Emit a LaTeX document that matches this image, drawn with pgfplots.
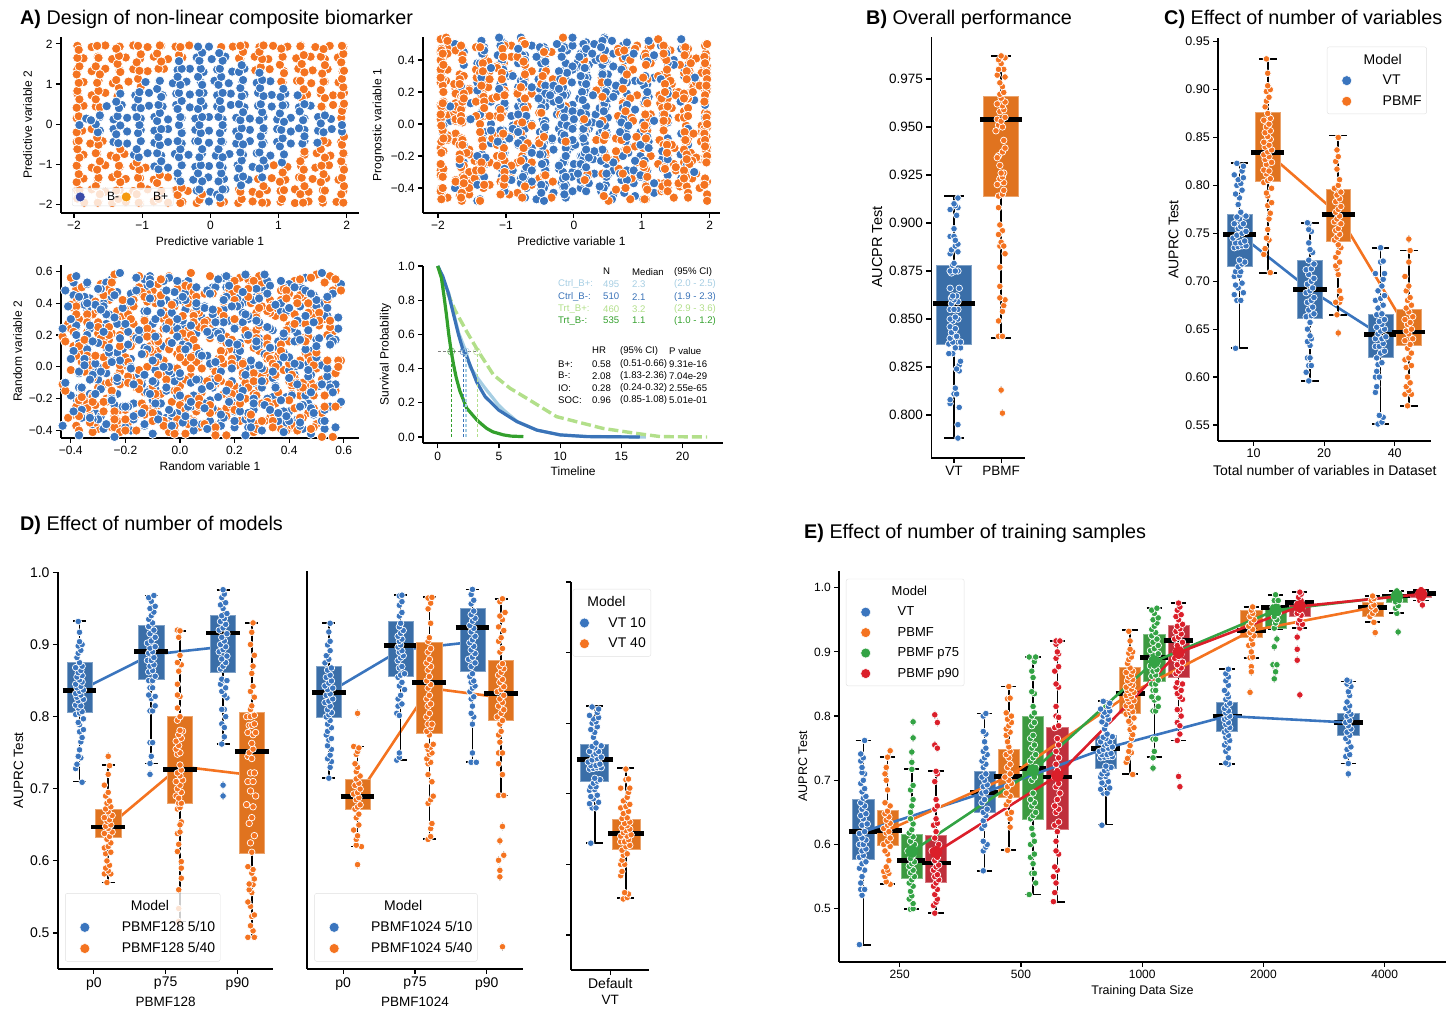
\documentclass[border=0pt]{standalone}
\usepackage{fontspec}
\setmainfont{Liberation Sans}
\usepackage{pgfplots}
\usepackage{pgfplotstable}
\pgfplotsset{compat=1.18}
\definecolor{dB}{HTML}{3A75BE}\definecolor{dO}{HTML}{F47320}\definecolor{dG}{HTML}{33A344}\definecolor{dR}{HTML}{DB1F2A}
\definecolor{bB}{HTML}{3A6EA8}\definecolor{bO}{HTML}{E0731F}\definecolor{bG}{HTML}{3C9A40}\definecolor{bR}{HTML}{BF2F3B}
\definecolor{kLB}{HTML}{A6CEE3}\definecolor{kB}{HTML}{3A73B8}\definecolor{kLG}{HTML}{B2DF8A}\definecolor{kG}{HTML}{33A02C}
\definecolor{lgB}{HTML}{3B4BA8}\definecolor{lgO}{HTML}{F59A0E}
\newcommand\fs[1]{\fontsize{#1}{#1}\selectfont}
\pgfplotsset{lg/.style={only marks,mark=*,mark size=5,mark options={fill=#1,draw=white,line width=.5pt,fill opacity=1,draw opacity=1}},
 mA/.style={only marks,mark=*,mark size=4.7,mark options={fill=#1,draw=white,line width=.8pt}},
 shiftlg/.style={legend image post style={xshift=8pt}},
 base/.style={scale only axis,axis lines=left,axis line style={-,line width=1.8pt},tick style={black,line width=1.2pt},major tick length=5pt,tick align=outside,scaled ticks=false,
 legend style={draw=black!12,rounded corners=2pt,fill=white,fill opacity=.8,text opacity=1,row sep=5.5pt,inner ysep=5pt},legend cell align=left}}
\def\ms{3.3}\def\pxu{70}\def\bw{.176}\def\mw{.235}\def\cw{.1}
\newcommand\swi[3]{\addplot[forget plot,only marks,mark=*,mark size=\ms,mark options={fill=#2,draw=white,line width=.7pt},x filter/.expression={#3+1.3*x/\pxu}] coordinates {#1};}
\newcommand\sw[3]{\expandafter\swi\expandafter{#3}{#1}{#2}}
\newcommand\fl[3]{\addplot[forget plot,only marks,mark=diamond,mark size=3.6,mark options={draw=black!55,line width=.6pt},x filter/.expression={#2+1.3*x/\pxu}] coordinates {#3};\sw{#1}{#2}{#3}}
\newcommand\bx[7]{%
\addplot[forget plot,black,line width=1.6pt,x filter/.expression={#2+x}] coordinates {(0,#3)(0,#7)};
\addplot[forget plot,black,line width=1.8pt,x filter/.expression={#2+x*\cw}] coordinates {(-1,#3)(1,#3)};
\addplot[forget plot,black,line width=1.8pt,x filter/.expression={#2+x*\cw}] coordinates {(-1,#7)(1,#7)};
\addplot[forget plot,fill=#1,draw=#1!65!white,line width=.6pt,x filter/.expression={#2+x*\bw}] coordinates {(-1,#4)(1,#4)(1,#6)(-1,#6)} --cycle;
\addplot[forget plot,black,line width=4.8pt,x filter/.expression={#2+x*\mw}] coordinates {(-1,#5)(1,#5)};}
\newcommand\ml[2]{\addplot[forget plot,#1,line width=2.6pt,line join=round] coordinates {#2};}
\newcommand\T[5][8]{\node[anchor=west,inner sep=0pt,text=#4] at ({#2},{1010-#3}) {\fs{#1}#5};}
\pgfplotstableread{
a b c d e
-.02 1.93 .12 .36 .16
-.2 1.66 -.26 .12 -.27
.02 1.62 .35 -.13 .30
.22 1.68 -.03 -.37 -.13
-.48 1.35 -.41 .38 .44
-.3 1.38 .21 .14 .01
-.1 1.3 -.17 -.11 .57
.1 1.36 .44 -.35 .15
.32 1.31 .06 .40 -.28
.5 1.38 -.32 .16 .29
-.95 1.05 .3 -.09 -.14
-.75 1.08 -.08 -.33 .43
-.55 1.02 -.47 .42 0
-.35 1.06 .15 .18 .55
-.14 1.04 -.23 -.07 .14
.06 1.08 .39 -.31 -.29
.27 1.02 .01 .44 .28
.47 1.06 -.38 .20 -.15
.68 1.03 .24 -.05 .42
.88 1.07 -.14 -.29 -.01
-1.32 .76 .48 .46 .56
-1.1 .72 .1 .22 .13
-.9 .78 -.29 -.03 -.30
-.7 .72 .33 -.27 .27
-.5 .76 -.05 .48 -.16
-.3 .74 -.43 .24 .41
-.1 .78 .19 -.01 -.02
.1 .72 -.2 -.25 .55
.3 .76 .42 .50 .12
.5 .74 .04 .26 -.31
.7 .78 -.35 .01 .26
.9 .73 .27 -.23 -.17
1.1 .76 -.11 .52 .40
1.28 .72 .49 .28 -.03
-1.52 .45 .13 .03 .54
-1.3 .48 -.25 -.21 .11
-1.1 .42 .37 .54 .32
-.9 .46 -.01 .30 .25
-.7 .44 -.4 .05 -.18
-.5 .48 .22 -.19 .39
-.3 .42 -.16 .56 -.04
-.1 .46 .46 .32 .53
.1 .44 .08 .07 .1
.3 .48 -.31 -.17 -.33
.5 .42 .31 .58 .24
.7 .46 -.07 .34 -.19
.9 .44 -.45 .09 .38
1.1 .48 .17 -.15 -.05
1.3 .42 -.22 .59 .52
1.47 .46 .4 .37 .09
-1.82 .14 .02 .11 -.34
-1.62 .18 -.36 -.13 .23
-1.42 .12 .26 -.38 -.2
-1.22 .16 -.12 .35 .37
-1.02 .14 .5 .13 -.06
-.82 .18 .11 -.12 .51
-.62 .12 -.27 -.36 .08
-.42 .16 .35 .39 -.35
-.22 .14 -.03 .15 .22
-.02 .18 -.42 -.10 -.21
.18 .12 .2 -.34 .36
.38 .16 -.18 .41 -.07
.58 .14 .44 .17 .5
.78 .18 .06 -.08 .07
.98 .12 -.33 -.32 -.36
1.18 .16 .29 .43 .21
1.38 .14 -.09 .19 -.22
1.58 .18 .47 -.06 .35
1.77 .13 .15 -.3 -.08
-1.62 -.16 -.24 .45 .49
-1.42 -.12 .38 .21 .06
-1.22 -.18 0 -.04 -.37
-1.02 -.14 -.39 -.28 .2
-.82 -.16 .23 .47 -.23
-.62 -.12 -.15 .23 .34
-.42 -.18 .47 -.02 -.09
-.22 -.14 .09 -.26 .48
-.02 -.16 -.3 .49 .05
.18 -.12 .32 .25 -.38
.38 -.18 -.06 0 .19
.58 -.14 -.44 -.24 -.24
.78 -.16 .18 .51 .33
.98 -.12 -.2 .27 -.1
1.18 -.18 .42 .02 .47
1.38 -.14 .04 -.22 .04
1.58 -.16 -.34 .53 -.39
1.78 -.12 .28 .29 .18
1.93 -.18 -.1 .04 -.25
-1.42 -.44 -.48 -.2 .32
-1.22 -.48 .14 .55 -.11
-1.02 -.42 -.24 .31 .46
-.82 -.46 .38 .06 .03
-.62 -.44 0 -.18 -.4
-.42 -.48 -.38 .57 .17
-.22 -.42 .24 .33 -.26
-.02 -.46 -.14 .08 .31
.18 -.44 .48 -.16 -.12
.38 -.48 .1 -.39 .45
.58 -.42 -.29 .36 .02
.78 -.46 .33 .12 -.13
.98 -.44 -.05 -.13 .55
1.18 -.48 -.43 -.37 .15
1.38 -.42 .19 .38 -.28
1.57 -.46 -.19 .14 .29
-1.12 -.76 .43 -.11 -.14
-.92 -.72 .05 -.35 .43
-.72 -.78 -.34 .40 -.02
-.52 -.74 .28 .16 .56
-.32 -.76 -.1 -.09 .13
-.12 -.72 -.46 -.33 -.3
.08 -.78 .16 .42 .27
.28 -.74 -.22 .18 -.16
.48 -.76 .4 -.07 .41
.68 -.72 .02 -.31 -.03
.88 -.78 -.37 .44 .54
1.08 -.74 .25 .2 .11
-.82 -1.05 -.13 -.05 -.32
-.62 -1.08 .49 -.29 .25
-.42 -1.02 .11 .46 -.18
-.22 -1.06 -.28 .22 .39
-.02 -1.04 .34 -.03 -.04
.18 -1.08 -.04 -.27 .53
.4 -1.02 -.42 .48 .1
.62 -1.06 .2 .24 -.33
.8 -1.04 -.18 -.01 .24
-.47 -1.35 .44 -.25 -.19
-.25 -1.38 .06 .5 .38
-.03 -1.32 -.33 .26 -.05
.2 -1.36 .29 .01 .52
.4 -1.34 -.09 -.23 .09
.56 -1.38 -.47 .52 -.34
-.2 -1.65 .13 .28 .23
0 -1.68 -.25 .03 -.2
.22 -1.62 .37 -.21 .37
-.02 -1.92 -.01 .54 -.06
.1 -1.75 -.4 .3 .5
}\tB
\pgfplotstableread{
a b c d e
-1.95 1.95 .32 .05 .07
-1.74 1.92 -.06 -.19 -.35
-1.54 1.96 -.44 .56 .22
-1.33 1.93 .18 .32 -.21
-1.13 1.96 -.2 .07 .36
-.92 1.92 .42 -.17 -.07
-.72 1.95 .04 .58 .5
-.51 1.93 -.34 .34 .07
-.31 1.96 .28 .09 -.36
.33 1.93 -.1 -.15 .21
.51 1.96 -.48 .59 -.22
.72 1.92 .14 .37 .35
.92 1.95 -.24 .11 -.08
1.13 1.93 .38 -.38 .49
1.33 1.96 0 .35 .06
1.54 1.92 -.38 .13 -.37
1.75 1.95 .24 -.12 .2
1.95 1.93 -.14 -.36 -.23
-1.86 1.64 .48 .39 .34
-1.65 1.68 .1 .15 -.09
-1.44 1.62 -.29 -.1 .48
-1.24 1.66 .33 -.34 .05
-1.03 1.63 -.05 .41 -.38
-.83 1.68 -.43 .17 .19
-.62 1.62 .19 -.08 -.24
-.41 1.66 -.19 -.32 .33
.44 1.63 .43 .43 -.1
.65 1.68 .05 .19 .47
.85 1.62 -.34 -.06 .04
1.06 1.66 .28 -.3 -.39
1.26 1.64 -.1 .45 .18
1.47 1.68 -.46 .21 -.25
1.68 1.62 .16 -.04 .32
1.87 1.66 -.22 -.28 -.11
-1.95 1.36 .4 .47 .46
-1.74 1.32 .02 .23 .03
-1.54 1.38 -.37 -.02 -.4
-1.33 1.34 .25 -.26 .17
-1.13 1.37 -.13 .49 -.26
-.92 1.32 .49 .25 .31
-.68 1.38 .11 0 -.12
.66 1.34 -.28 -.24 .45
.87 1.37 .34 .51 .02
1.08 1.32 -.04 .27 -.41
1.29 1.38 -.42 .02 .16
1.5 1.34 .2 -.22 -.27
1.72 1.37 -.18 .53 .3
1.94 1.32 .44 .29 -.13
-1.86 1.05 .06 .04 .44
-1.64 1.08 -.33 -.2 .01
-1.43 1.02 .29 .55 .57
-1.2 1.06 -.09 .31 .16
1.06 1.04 -.47 .06 -.28
1.27 1.08 .13 -.18 .28
1.48 1.02 -.25 .57 -.15
1.68 1.06 .37 .33 .42
1.88 1.04 -.01 .08 -.01
-1.95 .76 -.4 -.16 .56
-1.74 .72 .22 -.39 .13
-1.54 .78 -.16 .36 -.3
1.42 .74 .46 .12 .27
1.62 .76 .08 -.13 -.16
1.8 .72 -.31 -.37 .41
1.96 .78 .31 .38 -.02
-1.86 .46 -.07 .14 .55
-1.68 .44 -.45 -.11 .12
1.64 .42 .17 -.35 -.31
1.8 .48 -.21 .4 .26
1.95 .44 .41 .16 -.17
-1.96 .15 .03 -.09 .4
1.92 .16 -.35 -.33 -.03
-1.88 -.16 .27 .42 .54
-1.74 -.12 -.11 .18 .11
-1.96 -.44 .45 -.07 -.32
-1.76 -.48 .07 -.31 .25
-1.58 -.42 -.32 .44 -.18
1.72 -.46 .3 .2 .38
1.92 -.44 -.08 -.05 -.05
-1.86 -.76 -.46 -.29 .52
-1.66 -.72 .16 .46 .09
-1.46 -.78 -.23 .22 -.34
-1.26 -.74 .39 -.03 .23
1.38 -.76 .01 -.27 -.2
1.56 -.72 -.39 .48 .37
1.76 -.78 .23 .24 -.06
1.96 -.74 -.15 -.01 .5
-1.95 -1.05 .47 -.25 .07
-1.74 -1.08 .09 .5 -.36
-1.54 -1.02 -.3 .26 .21
-1.33 -1.06 .32 .01 -.22
-1.13 -1.04 -.06 -.23 .35
-.95 -1.08 -.44 .52 -.08
.93 -1.02 .18 .28 .49
1.13 -1.06 -.2 .03 .06
1.33 -1.04 .42 -.21 -.37
1.54 -1.08 .04 .54 .2
1.74 -1.02 -.34 .3 -.23
1.95 -1.06 .28 .05 .34
-1.86 -1.35 -.1 -.19 -.09
-1.65 -1.38 -.48 .56 .48
-1.44 -1.32 .14 .32 .05
-1.24 -1.36 -.24 .07 -.38
-1.03 -1.34 .38 -.17 .19
-.83 -1.38 0 .58 -.24
-.62 -1.32 -.38 .34 .33
.7 -1.36 .24 .09 -.1
.9 -1.34 -.14 -.15 .47
1.1 -1.38 .48 .59 .04
1.3 -1.32 .1 .37 -.39
1.5 -1.36 -.29 .11 .18
1.7 -1.34 .33 -.38 -.25
1.88 -1.38 -.05 .35 .32
-1.95 -1.65 -.43 .13 -.11
-1.74 -1.62 .19 -.12 .46
-1.54 -1.68 -.19 -.36 .03
-1.33 -1.64 .43 .39 -.4
-1.13 -1.66 .05 .15 .17
-.92 -1.62 -.34 -.1 -.26
-.72 -1.68 .28 -.34 .31
-.51 -1.64 -.1 .41 -.12
-.33 -1.66 -.46 .17 .45
.42 -1.62 .16 -.08 .02
.62 -1.68 -.22 -.32 -.41
.83 -1.64 .4 .43 .16
1.03 -1.66 .02 .19 -.27
1.24 -1.62 -.37 -.06 .3
1.44 -1.68 .25 -.3 -.13
1.65 -1.64 -.13 .45 .44
1.95 -1.66 .49 .21 .01
-1.85 -1.95 .11 -.04 .57
-1.64 -1.92 -.28 -.28 .14
-1.44 -1.96 .34 .47 -.29
-1.24 -1.93 -.04 .23 .28
-1.03 -1.96 -.42 -.02 -.15
-.83 -1.92 .2 -.26 .42
-.62 -1.95 -.18 .49 -.01
-.41 -1.93 .44 .25 .55
-.2 -1.96 .06 0 .12
.2 -1.93 -.33 -.24 -.31
.41 -1.96 .29 .51 .26
.62 -1.92 -.09 .27 -.17
.83 -1.95 -.47 .02 .4
1.03 -1.93 .13 -.22 -.03
1.24 -1.96 -.25 .53 .53
1.44 -1.92 .37 .29 .1
1.65 -1.95 -.01 .04 -.33
1.85 -1.93 -.4 -.2 .24
}\tO
% shared swarm groups (the same models appear in several panels)
\def\dVTt{(-3,.63)(-2,.68)(1,.68)(-4,.686)(3,.688)(-1,.693)(-3,.696)(2,.698)(-4,.705)(0,.706)(-3,.71)(1,.71)(-1,.715)(2,.718)(4,.72)(0,.722)(-4,.735)(-1,.736)(2,.737)(5,.737)(-3,.74)(1,.74)(4,.742)(-5,.745)(-2,.748)(2,.75)(5,.752)(-1,.755)(1,.757)(-4,.76)(3,.76)(0,.765)(5,.768)(-2,.767)(1,.772)(-1,.78)(0,.787)(-3,.791)(2,.795)(-2,.8)(1,.802)(-1,.806)(3,.808)(-4,.811)(2,.815)(3,.82)(-2,.823)}
\def\dVTf{(-2,.551)(1,.553)(2,.558)(-1,.56)(-4,.584)(-3,.59)(-4,.6)(-1,.6)(-3,.606)(-2,.613)(1,.615)(-3,.62)(0,.625)(3,.627)(-4,.632)(-1,.632)(2,.635)(-4,.64)(1,.64)(4,.642)(-2,.645)(0,.648)(3,.65)(-3,.652)(1,.655)(-1,.658)(3,.66)(-3,.665)(1,.666)(-2,.672)(2,.675)(-4,.68)(0,.682)(3,.685)(-2,.69)(1,.695)(2,.702)(-4,.708)(3,.708)(0,.72)(2,.721)(0,.735)}
\def\dPf{(2,.709)(-3,.728)(-2,.734)(1,.743)(-1,.745)(0,.754)(1,.765)(2,.771)(0,.779)(3,.782)(0,.789)(-1,.792)(3,.797)(-3,.803)(0,.805)(2,.807)(-1,.812)(-3,.816)(1,.815)(-1,.822)(3,.824)(-2,.827)(1,.83)(-3,.832)(0,.835)(3,.837)(-2,.84)(1,.842)(-3,.845)(2,.848)(0,.851)(-2,.855)(2,.857)(-1,.861)(1,.864)(-3,.868)(2,.87)(0,.875)(-2,.882)(-1,.888)(1,.892)(-1,.898)(2,.9)(0,.904)(0,.917)(-1,.932)}
\def\dPt{(-1,.57)(-3,.582)(2,.582)(0,.586)(-2,.59)(1,.594)(-1,.6)(-2,.61)(2,.612)(-3,.618)(0,.62)(2,.625)(-1,.63)(1,.634)(-3,.638)(3,.64)(0,.645)(-2,.648)(2,.65)(-1,.655)(1,.657)(-3,.66)(3,.663)(0,.668)(-2,.672)(2,.675)(-1,.68)(1,.683)(-2,.69)(0,.695)(-3,.705)(0,.72)(1,.732)}
\def\dPs{(-1,.735)(0,.745)(-1,.764)(1,.764)(-1,.808)(1,.808)(3,.815)(0,.825)(3,.828)(-2,.83)(-1,.84)(1,.84)(-2,.85)(1,.85)(3,.856)(-2,.862)(1,.864)(-1,.87)(2,.872)(-3,.878)(0,.878)(2,.882)(-2,.888)(1,.89)(-1,.895)(3,.897)(-3,.902)(0,.905)(3,.91)(-1,.915)(2,.92)(-2,.925)(1,.93)(-2,.935)(0,.94)(2,.945)(-1,.95)(3,.953)(0,.96)(-2,.965)(2,.968)}
\def\dPn{(-1,.762)(1,.772)(-1,.79)(1,.785)(2,.8)(1,.81)(-1,.81)(3,.826)(1,.83)(-1,.835)(2,.84)(-2,.845)(1,.85)(-1,.852)(3,.85)(-2,.866)(0,.87)(2,.875)(-1,.88)(3,.884)(-3,.89)(0,.893)(2,.897)(-2,.9)(1,.905)(-1,.91)(3,.915)(-3,.92)(0,.923)(2,.928)(-2,.932)(1,.936)(-1,.94)(3,.943)(0,.95)(-2,.955)(2,.958)(-1,.965)(1,.97)(0,.976)}
\begin{document}
\begin{tikzpicture}[x=1pt,y=1pt]
\path[use as bounding box] (0,0) rectangle (1448,1010);
% A1
\begin{axis}[base,shiftlg,at={(61pt,797.3pt)},anchor=south west,width=298pt,height=175.7pt,xmin=-2.19,xmax=2.18,ymin=-2.2,ymax=2.17,
 xtick={-2,-1,0,1,2},xticklabels={−2,−1,0,1,2},ytick={-2,-1,0,1,2},yticklabels={−2,−1,0,1,2},tick label style={font=\fs{12}},label style={font=\fs{12}},
 xlabel={Predictive variable 1},ylabel={Predictive variable 2},legend columns=2,legend style={at={(0.037,0.038)},anchor=south west,font=\fs{12},inner ysep=2pt}]
\addplot[forget plot,mA=dO] table[x=a,y=b] {\tO};
\addplot[forget plot,mA=dO] table[x=b,y=a] {\tO};
\addplot[forget plot,mA=dB] table[x=a,y=b] {\tB};
\addplot[forget plot,mA=dB] table[x=b,y=a] {\tB};
\addlegendimage{lg=lgB}\addlegendentry{\hspace{20pt}B-\hspace{2pt}}
\addlegendimage{lg=lgO}\addlegendentry{\hspace{20pt}B+\hspace{6pt}}
\end{axis}
% A2
\begin{axis}[base,at={(423pt,797pt)},anchor=south west,width=297pt,height=176pt,xmin=-2.22,xmax=2.15,ymin=-.556,ymax=.544,
 xtick={-2,-1,0,1,2},xticklabels={−2,−1,0,1,2},ytick={-.4,-.2,0,.2,.4},yticklabels={−0.4,−0.2,0.0,0.2,0.4},tick label style={font=\fs{12}},label style={font=\fs{12}},
 xlabel={Predictive variable 1},ylabel={Prognostic variable 1}]
\addplot[forget plot,mA=dB] table[x=a,y=c] {\tB};
\addplot[forget plot,mA=dO] table[x=a,y=c] {\tO};
\addplot[forget plot,mA=dB] table[x=b,y=e] {\tB};
\addplot[forget plot,mA=dO] table[x=b,y=e] {\tO};
\addplot[forget plot,mA=dB] table[x=b,y=c] {\tB};
\addplot[forget plot,mA=dO] table[x=a,y=e] {\tO};
\addplot[forget plot,mA=dB] table[x=a,y=d] {\tB};
\addplot[forget plot,mA=dO] table[x=b,y=c] {\tO};
\end{axis}
% A3
\begin{axis}[base,at={(61pt,572pt)},anchor=south west,width=298pt,height=173pt,xmin=-.436,xmax=.656,ymin=-.447,ymax=.64,
 xtick={-.4,-.2,0,.2,.4,.6},xticklabels={−0.4,−0.2,0.0,0.2,0.4,0.6},ytick={-.4,-.2,0,.2,.4,.6},yticklabels={−0.4,−0.2,0.0,0.2,0.4,0.6},tick label style={font=\fs{12}},label style={font=\fs{12}},
 xlabel={Random variable 1},ylabel={Random variable 2}]
\addplot[forget plot,mA=dO] table[x=d,y=e] {\tO};
\addplot[forget plot,mA=dB] table[x=d,y=e] {\tB};
\addplot[forget plot,mA=dO] table[x=e,y=d] {\tO};
\addplot[forget plot,mA=dB] table[x=e,y=d] {\tB};
\addplot[forget plot,mA=dO] table[x=c,y=e] {\tO};
\addplot[forget plot,mA=dB] table[x=d,y=c] {\tB};
\addplot[forget plot,mA=dO] table[x=d,y=c] {\tO};
\addplot[forget plot,mA=dB] table[x=c,y=d] {\tB};
\end{axis}
% A4
\begin{axis}[base,at={(423.3pt,566.7pt)},anchor=south west,width=299.7pt,height=177.3pt,xmin=-1.18,xmax=23.3,ymin=-.037,ymax=1,
 xtick={0,5,10,15,20},xticklabels={0,5,10,15,20},ytick={0,.2,.4,.6,.8,1},yticklabels={0.0,0.2,0.4,0.6,0.8,1.0},tick label style={font=\fs{12}},label style={font=\fs{12}},
 xlabel={Timeline},ylabel={Survival Probability}]
\addplot[forget plot,gray,densely dashed,line width=1pt] coordinates {(0,.5)(3.2,.5)};
\addplot[forget plot,kLB,line width=3.2pt] coordinates {(0,1)(.4,.93)(.9,.84)(1.7,.61)(2.3,.5)(2.64,.41)(3.2,.35)(3.87,.285)(4.96,.187)(5.5,.15)(6.5,.09)(8.1,.04)(10,.012)(12.2,.003)(15,.001)(17,0)};
\addplot[forget plot,kLG,line width=3.4pt,dash pattern=on 10pt off 4pt] coordinates {(0,1)(.46,.9)(1.42,.74)(2.37,.616)(3.32,.5)(4.55,.363)(5.9,.285)(7.27,.226)(9.7,.119)(13.5,.05)(16.3,.02)(18.2,.002)(22,0)};
\addplot[forget plot,kB,line width=3.2pt] coordinates {(0,1)(.41,.94)(.87,.84)(1.69,.6)(2.1,.5)(2.37,.47)(3.19,.32)(3.87,.236)(4.96,.158)(6.46,.09)(8.1,.04)(10,.012)(12.2,.002)(16.5,0)};
\addplot[forget plot,kG,line width=3.2pt] coordinates {(0,1)(.3,.93)(.5,.83)(.7,.72)(.9,.6)(1.1,.5)(1.3,.42)(1.5,.35)(1.8,.27)(2.37,.168)(3.19,.1)(3.5,.08)(4,.05)(4.5,.03)(5.37,.012)(6,.005)(7,.002)};
\addplot[forget plot,kG,densely dashed,line width=.8pt] coordinates {(1.1,0)(1.1,.5)};
\addplot[forget plot,kB,densely dashed,line width=1.2pt] coordinates {(2.1,0)(2.1,.5)};
\addplot[forget plot,kLB,densely dashed,line width=1.2pt] coordinates {(2.3,0)(2.3,.5)};
\addplot[forget plot,kLG,densely dashed,line width=.8pt] coordinates {(3.2,0)(3.2,.5)};
\addplot[forget plot,only marks,mark=o,mark size=3.6,kG,mark options={line width=.4pt}] coordinates {(1.1,.5)};
\addplot[forget plot,only marks,mark=o,mark size=3.6,kB,mark options={line width=.4pt}] coordinates {(2.1,.5)};
\addplot[forget plot,only marks,mark=o,mark size=3.6,kLB,mark options={line width=.4pt}] coordinates {(2.3,.5)};
\addplot[forget plot,only marks,mark=o,mark size=3.6,kLG,mark options={line width=.4pt}] coordinates {(3.2,.5)};
\end{axis}
% B
\def\pxu{47}\def\bw{.37}\def\mw{.447}\def\cw{.21}
\begin{axis}[base,at={(931.4pt,552.3pt)},anchor=south west,width=93.3pt,height=421pt,xmin=-.48,xmax=1.5,ymin=.7778,ymax=.997,
 xtick={0,1},xticklabels={VT,PBMF},ytick={.8,.825,.85,.875,.9,.925,.95,.975},yticklabels={0.800,0.825,0.850,0.875,0.900,0.925,0.950,0.975},tick label style={font=\fs{13.5}},label style={font=\fs{14.5}},ylabel={AUCPR Test}]
\bx{bB}{0}{.788}{.837}{.858}{.878}{.914}
\bx{bO}{1}{.84}{.914}{.954}{.966}{.987}
\sw{dB}{0}{(3,.788)(3,.795)(4,.804)(-3,.806)(-3,.808)(0,.811)(2,.811)(1,.814)(4,.823)(4,.826)(2,.824)(5,.828)(-1,.832)(-4,.832)(5,.835)(1,.835)(-4,.837)(-1,.838)(5,.838)(-3,.84)(0,.842)(-2,.843)(2,.841)(-3,.846)(1,.845)(-1,.849)(3,.85)(-3,.85)(1,.851)(-3,.855)(3,.855)(0,.855)(-2,.858)(3,.859)(0,.86)(-2,.861)(2,.862)(-3,.866)(4,.866)(-1,.862)(-2,.874)(3,.875)(-3,.875)(1,.875)(-1,.878)(0,.879)(-3,.884)(3,.885)(-2,.886)(1,.888)(3,.889)(-3,.893)(0,.893)(0,.897)(1,.891)(2,.904)(3,.908)(-3,.907)(1,.909)(3,.913)(0,.91)}
\sw{dO}{1}{(-2,.841)(1,.841)(-2,.849)(1,.854)(2,.857)(3,.86)(-1,.861)(-1,.867)(-1,.877)(3,.884)(-1,.888)(0,.89)(1,.896)(-1,.899)(-2,.894)(2,.888)(-2,.908)(-2,.914)(1,.915)(2,.917)(-3,.92)(2,.921)(-1,.923)(1,.924)(2,.926)(0,.926)(-1,.93)(-2,.935)(-3,.934)(1,.937)(3,.939)(2,.943)(-4,.948)(-2,.951)(1,.95)(-3,.954)(0,.953)(3,.955)(-1,.958)(2,.959)(1,.961)(-3,.962)(3,.963)(0,.965)(-1,.967)(2,.968)(1,.971)(-1,.973)(3,.976)(-3,.977)(2,.98)(-2,.98)(0,.983)(3,.986)(-2,.985)(0,.987)}
\fl{dO}{1}{(0,.813)(1,.801)}
\end{axis}
% C
\def\pxu{70.5}\def\bw{.176}\def\mw{.235}\def\cw{.125}
\begin{axis}[base,shiftlg,at={(1218.3pt,569.3pt)},anchor=south west,width=213.1pt,height=402.4pt,xmin=-.5,xmax=2.52,ymin=.5336,ymax=.9535,
 xtick={0,1,2},xticklabels={10,20,40},ytick={.55,.6,.65,.7,.75,.8,.85,.9,.95},yticklabels={0.55,0.60,0.65,0.70,0.75,0.80,0.85,0.90,0.95},tick label style={font=\fs{12.5}},label style={font=\fs{14}},
 xlabel={Total number of variables in Dataset},ylabel={AUPRC Test},legend style={at={(.51,.979)},anchor=north west,font=\fs{14}}]
\ml{dB}{(-.2,.749)(.8,.691)(1.8,.644)}
\ml{dO}{(.2,.834)(1.2,.77)(2.2,.647)}
\bx{bB}{-.2}{.63}{.716}{.749}{.77}{.823}
\bx{bO}{.2}{.709}{.804}{.834}{.876}{.932}
\bx{bB}{.8}{.596}{.661}{.691}{.722}{.761}
\bx{bO}{1.2}{.665}{.742}{.77}{.796}{.852}
\bx{bB}{1.8}{.551}{.621}{.644}{.665}{.735}
\bx{bO}{2.2}{.57}{.633}{.647}{.671}{.732}
\sw{dB}{-.2}{\dVTt}\sw{dO}{.2}{\dPf}\sw{dB}{1.8}{\dVTf}\sw{dO}{2.2}{\dPt}
\sw{dB}{.8}{(-1,.596)(-3,.605)(-1,.612)(1,.612)(-2,.62)(0,.62)(0,.633)(-2,.637)(1,.64)(0,.643)(-2,.65)(0,.657)(-3,.663)(1,.664)(3,.666)(-1,.67)(2,.673)(-2,.678)(1,.68)(3,.683)(-3,.688)(0,.69)(2,.693)(-2,.697)(1,.7)(3,.703)(-1,.707)(-3,.712)(1,.713)(3,.718)(-1,.722)(2,.73)(0,.733)(-1,.74)(1,.752)(-1,.754)(-1,.76)(-2,.761)}
\sw{dO}{1.2}{(-1,.665)(1,.678)(-2,.678)(2,.682)(1,.69)(0,.707)(-1,.713)(-2,.716)(1,.72)(-2,.725)(0,.73)(2,.735)(0,.738)(-3,.743)(-1,.746)(1,.749)(-2,.753)(0,.755)(2,.76)(-3,.762)(-1,.765)(1,.768)(-2,.772)(0,.775)(2,.778)(-2,.783)(1,.786)(-1,.79)(2,.793)(-3,.797)(0,.8)(1,.806)(-1,.817)(-2,.825)(0,.83)(-1,.837)(0,.85)}
\fl{dO}{1.2}{(0,.646)}\fl{dO}{2.2}{(0,.744)}
\addlegendimage{empty legend}\addlegendentry{\hspace{10pt}Model}
\addlegendimage{lg=dB}\addlegendentry{\hspace{29pt}VT}
\addlegendimage{lg=dO}\addlegendentry{\hspace{29pt}PBMF\hspace{3pt}}
\end{axis}
% D1
\def\pxu{72}\def\bw{.176}\def\mw{.235}\def\cw{.09}
\begin{axis}[base,shiftlg,at={(58pt,41.3pt)},anchor=south west,width=215.3pt,height=397pt,xmin=-.5,xmax=2.5,ymin=.4505,ymax=1.001,
 xtick={0,1,2},xticklabels={p0,p75,p90},ytick={.5,.6,.7,.8,.9,1},yticklabels={0.5,0.6,0.7,0.8,0.9,1.0},tick label style={font=\fs{14}},label style={font=\fs{13.5}},
 xlabel={PBMF128},ylabel={AUPRC Test},legend style={at={(.033,.018)},anchor=south west,font=\fs{14}}]
\ml{dB}{(-.2,.836)(.8,.886)(1.8,.897)}
\ml{dO}{(.2,.6475)(1.2,.731)(2.2,.719)}
\bx{bB}{-.2}{.71}{.806}{.836}{.876}{.933}
\bx{bO}{.2}{.57}{.633}{.647}{.671}{.733}
\bx{bB}{.8}{.735}{.852}{.89}{.927}{.968}
\bx{bO}{1.2}{.516}{.68}{.727}{.8}{.919}
\bx{bB}{1.8}{.762}{.861}{.916}{.941}{.976}
\bx{bO}{2.2}{.494}{.611}{.752}{.806}{.93}
\sw{dB}{-.2}{\dPf}\sw{dO}{.2}{\dPt}\sw{dB}{.8}{\dPs}\sw{dB}{1.8}{\dPn}
\fl{dB}{.8}{(-1,.72)}\fl{dB}{1.8}{(0,.705)(0,.69)}\fl{dO}{.2}{(0,.745)}
\sw{dO}{1.2}{(-1,.516)(-1,.534)(-1,.56)(1,.576)(1,.59)(1,.599)(-2,.613)(-1,.623)(-2,.638)(0,.64)(1,.654)(0,.65)(-2,.672)(0,.674)(-1,.68)(1,.68)(-3,.69)(-1,.687)(1,.695)(-2,.7)(0,.705)(-3,.71)(2,.712)(0,.718)(-2,.722)(1,.726)(0,.733)(-2,.748)(0,.75)(-3,.755)(-1,.76)(-3,.766)(1,.77)(-1,.775)(2,.78)(0,.781)(-2,.795)(0,.8)(-2,.812)(0,.828)(-2,.83)(-2,.845)(-1,.863)(1,.872)(-2,.875)(0,.885)(-1,.91)(-2,.92)(0,.919)}
\sw{dO}{2.2}{(-3,.494)(2,.494)(1,.503)(-1,.51)(0,.523)(2,.525)(-1,.537)(-3,.543)(0,.556)(-2,.56)(1,.567)(-2,.568)(2,.575)(0,.583)(1,.588)(-3,.592)(0,.612)(-1,.625)(2,.635)(-2,.652)(0,.66)(-4,.678)(1,.675)(3,.69)(-1,.697)(-3,.71)(1,.71)(-1,.722)(2,.722)(-3,.745)(0,.742)(-2,.75)(1,.755)(0,.763)(-3,.778)(1,.775)(3,.778)(-2,.788)(0,.788)(2,.79)(-4,.8)(-1,.8)(2,.802)(-1,.81)(0,.815)(2,.827)(-1,.835)(1,.842)(0,.86)(1,.87)(2,.885)(-1,.9)(0,.917)(1,.93)}
\addlegendimage{empty legend}\addlegendentry{\hspace{39pt}Model}
\addlegendimage{lg=dB}\addlegendentry{\hspace{30pt}PBMF128 5/10\hspace{7pt}}
\addlegendimage{lg=dO}\addlegendentry{\hspace{30pt}PBMF128 5/40\hspace{7pt}}
\end{axis}
% D2
\begin{axis}[base,shiftlg,at={(307.3pt,41.3pt)},anchor=south west,width=215.4pt,height=398pt,xmin=-.5,xmax=2.5,ymin=.4505,ymax=1.003,
 xtick={0,1,2},xticklabels={p0,p75,p90},ytick=\empty,tick label style={font=\fs{14}},label style={font=\fs{13.5}},
 xlabel={PBMF1024},legend style={at={(.033,.018)},anchor=south west,font=\fs{14}}]
\ml{dB}{(-.2,.834)(.8,.893)(1.8,.904)}
\ml{dO}{(.2,.69)(1.2,.84)(2.2,.827)}
\bx{bB}{-.2}{.715}{.799}{.834}{.87}{.93}
\bx{bO}{.2}{.62}{.672}{.69}{.713}{.759}
\bx{bB}{.8}{.74}{.856}{.899}{.933}{.969}
\bx{bO}{1.2}{.63}{.777}{.848}{.903}{.966}
\bx{bB}{1.8}{.737}{.864}{.924}{.951}{.977}
\bx{bO}{2.2}{.691}{.795}{.833}{.878}{.964}
\sw{dB}{-.2}{(0,.715)(1,.73)(2,.738)(-1,.742)(1,.747)(2,.755)(-1,.76)(0,.768)(2,.77)(-2,.775)(-1,.78)(2,.785)(-1,.79)(1,.795)(-2,.8)(0,.803)(2,.806)(-1,.81)(1,.815)(-3,.82)(0,.822)(3,.825)(-2,.83)(1,.832)(-1,.838)(3,.84)(-3,.843)(0,.847)(2,.85)(-2,.855)(1,.858)(-1,.865)(2,.868)(-3,.875)(0,.88)(-2,.885)(1,.892)(-1,.9)(1,.905)(0,.918)(1,.93)}
\sw{dO}{.2}{(3,.62)(-1,.622)(-1,.63)(0,.635)(-3,.643)(1,.65)(-1,.66)(1,.665)(-2,.672)(0,.675)(2,.678)(-1,.685)(1,.688)(-3,.693)(0,.695)(2,.7)(-2,.705)(1,.708)(-1,.714)(2,.718)(-1,.724)(0,.73)(-2,.735)(-1,.748)(0,.752)(-3,.759)(1,.757)}
\fl{dO}{.2}{(0,.805)(0,.595)}
\sw{dB}{.8}{(-3,.74)(-1,.744)(-1,.75)(-3,.805)(-1,.802)(-2,.815)(1,.818)(-2,.825)(0,.83)(3,.838)(-1,.843)(1,.848)(-2,.855)(0,.858)(3,.86)(-1,.868)(1,.87)(-2,.878)(0,.882)(2,.885)(-1,.89)(1,.892)(-2,.897)(0,.9)(-1,.905)(1,.908)(-2,.912)(0,.916)(2,.92)(-1,.925)(0,.93)(-1,.94)(1,.945)(-1,.955)(1,.96)(-1,.968)(1,.969)}
\sw{dO}{1.2}{(-1,.63)(1,.634)(1,.645)(2,.652)(-1,.68)(1,.685)(3,.69)(-1,.72)(2,.71)(-1,.735)(1,.737)(-2,.742)(0,.748)(2,.75)(-1,.755)(1,.758)(-2,.76)(3,.762)(0,.775)(-2,.78)(1,.785)(-1,.79)(2,.79)(-2,.8)(0,.805)(-1,.815)(1,.818)(-2,.825)(0,.83)(-1,.84)(1,.845)(-2,.85)(0,.856)(-1,.865)(1,.87)(-2,.875)(0,.88)(-1,.89)(1,.895)(-1,.905)(0,.91)(1,.93)(-1,.95)(1,.958)(-1,.965)(2,.966)}
\sw{dB}{1.8}{(-1,.737)(3,.737)(0,.75)(0,.79)(1,.8)(-1,.805)(0,.815)(-1,.825)(1,.828)(-2,.835)(0,.84)(2,.843)(-1,.848)(1,.85)(-2,.856)(0,.86)(-1,.87)(2,.875)(-3,.88)(0,.883)(2,.888)(-1,.893)(1,.898)(-2,.903)(0,.907)(2,.912)(-1,.918)(1,.923)(-2,.927)(0,.933)(2,.937)(-1,.942)(1,.947)(-1,.957)(1,.962)(-1,.97)(0,.977)}
\sw{dO}{2.2}{(-2,.691)(2,.691)(1,.72)(-2,.735)(-2,.75)(1,.75)(-1,.765)(-2,.775)(0,.78)(-1,.79)(1,.795)(-3,.8)(0,.805)(2,.81)(-2,.815)(1,.82)(-1,.825)(2,.83)(-3,.835)(0,.838)(2,.842)(-1,.848)(1,.852)(-2,.858)(0,.862)(2,.867)(-1,.87)(1,.874)(-1,.89)(1,.895)(-2,.905)(0,.91)(-2,.925)(2,.92)(1,.935)(-1,.94)(3,.945)(-1,.96)(1,.964)}
\fl{dO}{2.2}{(1,.648)(-1,.628)(2,.608)(-2,.601)(-1,.587)(-1,.578)(1,.481)}
\addlegendimage{empty legend}\addlegendentry{\hspace{43pt}Model}
\addlegendimage{lg=dB}\addlegendentry{\hspace{30pt}PBMF1024 5/10\hspace{7pt}}
\addlegendimage{lg=dO}\addlegendentry{\hspace{30pt}PBMF1024 5/40\hspace{7pt}}
\end{axis}
% D3
\def\pxu{78}\def\bw{.18}\def\mw{.23}\def\cw{.11}
\begin{axis}[base,at={(571.3pt,40pt)},anchor=south west,width=78pt,height=388pt,xmin=-.5,xmax=.5,ymin=.4504,ymax=1,
 xtick={0},xticklabels={Default},ytick={.5,.6,.7,.8,.9,1},yticklabels={},tick label style={font=\fs{14}},label style={font=\fs{13.5}},
 xlabel={VT},legend style={at={(.018,.982)},anchor=north west,font=\fs{14}}]
\bx{bB}{-.2}{.63}{.717}{.749}{.77}{.824}
\bx{bO}{.2}{.552}{.621}{.644}{.664}{.736}
\sw{dB}{-.2}{\dVTt}\sw{dO}{.2}{\dVTf}
\addlegendimage{empty legend}\addlegendentry{\hspace{-4pt}Model}
\addlegendimage{lg=dB}\addlegendentry{\hspace{17pt}VT 10}
\addlegendimage{lg=dO}\addlegendentry{\hspace{17pt}VT 40}
\end{axis}
% E
\def\pxu{121.25}\def\bw{.088}\def\mw{.12}\def\cw{.063}
\begin{axis}[base,shiftlg,at={(839.3pt,48.3pt)},anchor=south west,width=606.4pt,height=390.7pt,xmin=-.498,xmax=4.503,ymin=.4174,ymax=1.026,
 xtick={0,1,2,3,4},xticklabels={250,500,1000,2000,4000},ytick={.5,.6,.7,.8,.9,1},yticklabels={0.5,0.6,0.7,0.8,0.9,1.0},tick label style={font=\fs{12}},label style={font=\fs{12.5}},
 xlabel={Training Data Size},ylabel={AUPRC Test},legend style={at={(.011,.98)},anchor=north west,font=\fs{13},row sep=6pt}]
\bx{bB}{-.3}{.444}{.577}{.62}{.67}{.762}
\bx{bO}{-.1}{.538}{.598}{.622}{.653}{.736}
\bx{bG}{.1}{.499}{.548}{.575}{.616}{.717}
\bx{bR}{.3}{.493}{.541}{.571}{.615}{.714}
\bx{bB}{.7}{.559}{.65}{.681}{.714}{.804}
\bx{bO}{.9}{.591}{.674}{.706}{.749}{.846}
\bx{bG}{1.1}{.522}{.639}{.718}{.8}{.892}
\bx{bR}{1.3}{.511}{.623}{.705}{.782}{.917}
\bx{bB}{1.7}{.631}{.718}{.75}{.77}{.823}
\bx{bO}{1.9}{.71}{.805}{.835}{.876}{.934}
\bx{bG}{2.1}{.736}{.854}{.891}{.927}{.968}
\bx{bR}{2.3}{.762}{.861}{.918}{.941}{.976}
\bx{bB}{2.7}{.725}{.777}{.8}{.822}{.873}
\bx{bO}{2.9}{.891}{.922}{.933}{.965}{.97}
\bx{bG}{3.1}{.936}{.936}{.969}{.973}{.989}
\bx{bR}{3.3}{.937}{.955}{.977}{.981}{.993}
\bx{bB}{3.7}{.726}{.77}{.79}{.804}{.854}
\bx{bO}{3.9}{.946}{.955}{.969}{.978}{.987}
\bx{bG}{4.1}{.96}{.978}{.987}{.989}{.995}
\bx{bR}{4.3}{.98}{.985}{.991}{.994}{.997}
\sw{dB}{-.3}{(-3,.444)(-1,.521)(-2,.53)(1,.53)(-2,.54)(-1,.55)(1,.56)(-3,.563)(-1,.57)(2,.573)(-3,.58)(0,.583)(-1,.59)(2,.593)(-3,.6)(0,.6)(2,.607)(-1,.61)(-3,.617)(1,.62)(-1,.63)(3,.632)(0,.64)(-2,.645)(2,.648)(-1,.655)(1,.66)(-2,.665)(0,.672)(2,.675)(-1,.682)(1,.687)(-2,.695)(0,.7)(1,.71)(-1,.712)(-1,.72)(-2,.73)(0,.735)(-2,.741)(1,.762)}
\sw{dO}{-.1}{(2,.538)(-1,.542)(-2,.55)(1,.555)(-3,.558)(0,.56)(-1,.565)(1,.575)(0,.585)(-2,.59)(2,.597)(-3,.6)(0,.605)(2,.61)(-1,.618)(1,.62)(-3,.625)(0,.63)(2,.633)(-1,.638)(1,.643)(-2,.648)(0,.652)(2,.66)(-2,.665)(0,.685)(-1,.7)(-2,.71)(-1,.72)(0,.736)}
\fl{dO}{-.1}{(2,.746)}
\sw{dG}{.1}{(-1,.499)(1,.5)(1,.508)(-2,.515)(0,.52)(-1,.527)(1,.535)(-2,.54)(0,.545)(2,.55)(-1,.556)(1,.56)(-2,.566)(0,.57)(2,.573)(-1,.578)(1,.584)(-3,.59)(0,.594)(2,.6)(-1,.605)(1,.612)(-2,.618)(0,.623)(1,.632)(-1,.64)(-1,.65)(0,.66)(1,.67)(-1,.685)(1,.692)(0,.717)}
\fl{dG}{.1}{(1,.791)(1,.766)(0,.744)(0,.728)}
\sw{dR}{.3}{(-1,.493)(-2,.505)(0,.51)(1,.515)(-1,.522)(1,.53)(-2,.535)(0,.54)(2,.545)(-1,.55)(1,.553)(-2,.56)(0,.565)(2,.568)(-1,.575)(1,.58)(-3,.59)(0,.592)(2,.6)(-1,.61)(0,.62)(-2,.63)(1,.633)(0,.64)(-1,.655)(1,.66)(0,.67)(-1,.698)(1,.71)(0,.714)}
\fl{dR}{.3}{(-1,.802)(1,.79)(-1,.755)(1,.75)}
\sw{dB}{.7}{(-1,.559)(-1,.59)(1,.596)(2,.6)(-1,.605)(-2,.625)(0,.63)(-1,.637)(1,.645)(-1,.65)(2,.655)(-2,.665)(0,.67)(-2,.68)(1,.682)(-1,.69)(2,.693)(0,.7)(-2,.705)(1,.71)(-1,.72)(1,.725)(-2,.73)(0,.735)(2,.74)(-1,.745)(1,.75)(0,.76)(1,.772)(-1,.776)(-1,.8)(1,.804)}
\sw{dO}{.9}{(-1,.591)(1,.627)(1,.64)(-1,.648)(2,.65)(-2,.662)(0,.668)(1,.675)(-2,.68)(-1,.69)(2,.695)(0,.7)(-3,.705)(1,.71)(-1,.72)(1,.725)(0,.735)(-2,.74)(1,.745)(0,.752)(-1,.76)(-2,.77)(1,.775)(-2,.78)(0,.785)(2,.79)(-1,.795)(2,.8)(-2,.805)(-1,.827)(1,.828)(0,.846)}
\sw{dG}{1.1}{(-3,.522)(2,.54)(-1,.555)(1,.555)(0,.57)(-2,.58)(1,.585)(-2,.6)(1,.605)(0,.615)(-1,.625)(-2,.64)(0,.645)(2,.65)(-1,.66)(1,.665)(-2,.67)(0,.68)(-1,.7)(1,.705)(-1,.715)(2,.72)(-2,.73)(0,.735)(2,.74)(-1,.75)(1,.755)(-2,.765)(0,.77)(-1,.785)(1,.79)(-1,.8)(1,.805)(0,.815)(1,.835)(-1,.838)(0,.86)(-1,.87)(1,.885)(-3,.892)(2,.892)}
\sw{dR}{1.3}{(-3,.511)(-2,.525)(-1,.54)(-3,.55)(0,.56)(-2,.565)(1,.585)(-1,.59)(-1,.605)(0,.62)(-2,.63)(1,.635)(-1,.65)(1,.655)(-2,.66)(0,.67)(2,.68)(-1,.69)(1,.695)(-2,.705)(0,.715)(-1,.725)(1,.735)(-1,.745)(1,.755)(0,.765)(-2,.782)(1,.785)(-1,.8)(1,.798)(-1,.815)(1,.845)(-1,.85)(-2,.87)(1,.877)(-1,.89)(1,.897)(0,.9)(-1,.912)(-1,.917)(2,.917)}
\sw{dB}{1.7}{\dVTt}\sw{dO}{1.9}{\dPf}\sw{dG}{2.1}{\dPs}\sw{dR}{2.3}{\dPn}
\fl{dG}{2.1}{(-1,.719)}\fl{dR}{2.3}{(0,.706)(1,.69)}
\sw{dB}{2.7}{(1,.725)(-1,.727)(1,.735)(-1,.745)(1,.75)(-2,.755)(0,.76)(2,.762)(-1,.767)(1,.77)(-2,.775)(0,.778)(2,.782)(-1,.787)(1,.79)(-2,.795)(0,.798)(2,.8)(-1,.805)(1,.808)(-2,.812)(0,.817)(2,.82)(-1,.826)(1,.83)(0,.835)(-2,.84)(1,.848)(-1,.855)(1,.861)(-1,.866)(1,.873)}
\sw{dO}{2.9}{(-1,.891)(1,.892)(0,.9)(-2,.91)(1,.912)(0,.92)(2,.925)(-1,.93)(1,.935)(-2,.94)(0,.945)(2,.95)(-1,.955)(1,.96)(0,.965)(1,.97)}
\fl{dO}{2.9}{(0,.877)(0,.869)(-1,.837)}
\sw{dG}{3.1}{(-1,.937)(0,.945)(1,.95)(-1,.955)(2,.96)(0,.965)(-2,.97)(1,.973)(-1,.98)(2,.98)(0,.989)}
\fl{dG}{3.1}{(1,.92)(-1,.908)(-2,.88)(1,.88)(0,.869)(-1,.858)}
\sw{dR}{3.3}{(0,.937)(-1,.945)(2,.943)(0,.95)(1,.957)(-2,.96)(0,.965)(2,.97)(-2,.975)(1,.98)(-1,.985)(1,.99)(0,.993)}
\fl{dR}{3.3}{(-2,.923)(-2,.904)(-2,.887)(0,.833)}
\sw{dB}{3.7}{(0,.726)(-2,.737)(1,.74)(-1,.748)(2,.752)(0,.76)(-2,.765)(1,.77)(-1,.775)(2,.78)(0,.785)(-2,.79)(1,.793)(-1,.8)(2,.803)(0,.808)(-2,.812)(1,.816)(-1,.822)(1,.832)(0,.838)(2,.846)(-1,.85)(1,.854)(-1,.856)}
\fl{dB}{3.7}{(0,.71)}
\sw{dO}{3.9}{(1,.946)(-2,.955)(0,.96)(2,.965)(-1,.97)(1,.973)(-1,.98)(1,.983)(0,.987)}
\fl{dO}{3.9}{(2,.93)}
\sw{dG}{4.1}{(0,.96)(-1,.968)(1,.972)(-1,.978)(2,.98)(0,.985)(-1,.99)(1,.992)(0,.995)}
\fl{dG}{4.1}{(1,.931)}
\sw{dR}{4.3}{(-1,.98)(1,.983)(0,.987)(-2,.99)(2,.992)(0,.997)}
\fl{dR}{4.3}{(1,.973)}
\ml{dB}{(-.3,.62)(.7,.681)(1.7,.75)(2.7,.8)(3.7,.79)}
\ml{dO}{(-.1,.622)(.9,.706)(1.9,.835)(2.9,.933)(3.9,.969)}
\addplot[forget plot,dG,line width=2.6pt,mark=*,mark size=5,mark options={fill=dG,draw=dG}] coordinates {(.1,.589)(1.1,.715)(2.1,.885)(3.1,.965)(4.1,.987)};
\addplot[forget plot,dR,line width=2.6pt,mark=*,mark size=5,mark options={fill=dR,draw=dR}] coordinates {(.3,.588)(1.3,.707)(2.3,.899)(3.3,.971)(4.3,.99)};
\addlegendimage{empty legend}\addlegendentry{\hspace{19pt}Model}
\addlegendimage{lg=dB}\addlegendentry{\hspace{25pt}VT}
\addlegendimage{lg=dO}\addlegendentry{\hspace{25pt}PBMF}
\addlegendimage{lg=dG}\addlegendentry{\hspace{25pt}PBMF p75}
\addlegendimage{lg=dR}\addlegendentry{\hspace{25pt}PBMF p90}
\end{axis}
% titles
\T[19.8]{20}{19}{black}{\textbf{A)} Design of non-linear composite biomarker}
\T[19.8]{866}{19}{black}{\textbf{B)} Overall performance}
\T[19.8]{1164}{19}{black}{\textbf{C)} Effect of number of variables}
\T[19.8]{20}{525}{black}{\textbf{D)} Effect of number of models}
\T[19.8]{804}{533}{black}{\textbf{E)} Effect of number of training samples}
% survival tables
\def\Fz{9.6}
\T[\Fz]{603}{271.7}{black}{N}\T[\Fz]{632}{271.7}{black}{Median}\T[\Fz]{674}{271.7}{black}{(95\% CI)}
\T[\Fz]{558}{284}{kLB}{Ctrl\_B+:}\T[\Fz]{603}{284}{kLB}{495}\T[\Fz]{632}{284}{kLB}{2.3}\T[\Fz]{674}{284}{kLB}{(2.0 - 2.5)}
\T[\Fz]{558}{296.7}{kB}{Ctrl\_B-:}\T[\Fz]{603}{296.7}{kB}{510}\T[\Fz]{632}{296.7}{kB}{2.1}\T[\Fz]{674}{296.7}{kB}{(1.9 - 2.3)}
\T[\Fz]{558}{309}{kLG}{Trt\_B+:}\T[\Fz]{603}{309}{kLG}{460}\T[\Fz]{632}{309}{kLG}{3.2}\T[\Fz]{674}{309}{kLG}{(2.9 - 3.6)}
\T[\Fz]{558}{320.7}{kG}{Trt\_B-:}\T[\Fz]{603}{320.7}{kG}{535}\T[\Fz]{632}{320.7}{kG}{1.1}\T[\Fz]{674}{320.7}{kG}{(1.0 - 1.2)}
\T[\Fz]{592}{350.7}{black}{HR}\T[\Fz]{620}{350.7}{black}{(95\% CI)}\T[\Fz]{669}{350.7}{black}{P value}
\T[\Fz]{558}{364}{black}{B+:}\T[\Fz]{592}{364}{black}{0.58}\T[\Fz]{620}{364}{black}{(0.51-0.66)}\T[\Fz]{669}{364}{black}{9.31e-16}
\T[\Fz]{558}{375.7}{black}{B-:}\T[\Fz]{592}{375.7}{black}{2.08}\T[\Fz]{620}{375.7}{black}{(1.83-2.36)}\T[\Fz]{669}{375.7}{black}{7.04e-29}
\T[\Fz]{558}{388}{black}{IO:}\T[\Fz]{592}{388}{black}{0.28}\T[\Fz]{620}{388}{black}{(0.24-0.32)}\T[\Fz]{669}{388}{black}{2.55e-65}
\T[\Fz]{558}{400}{black}{SOC:}\T[\Fz]{592}{400}{black}{0.96}\T[\Fz]{620}{400}{black}{(0.85-1.08)}\T[\Fz]{669}{400}{black}{5.01e-01}
\end{tikzpicture}
\end{document}
